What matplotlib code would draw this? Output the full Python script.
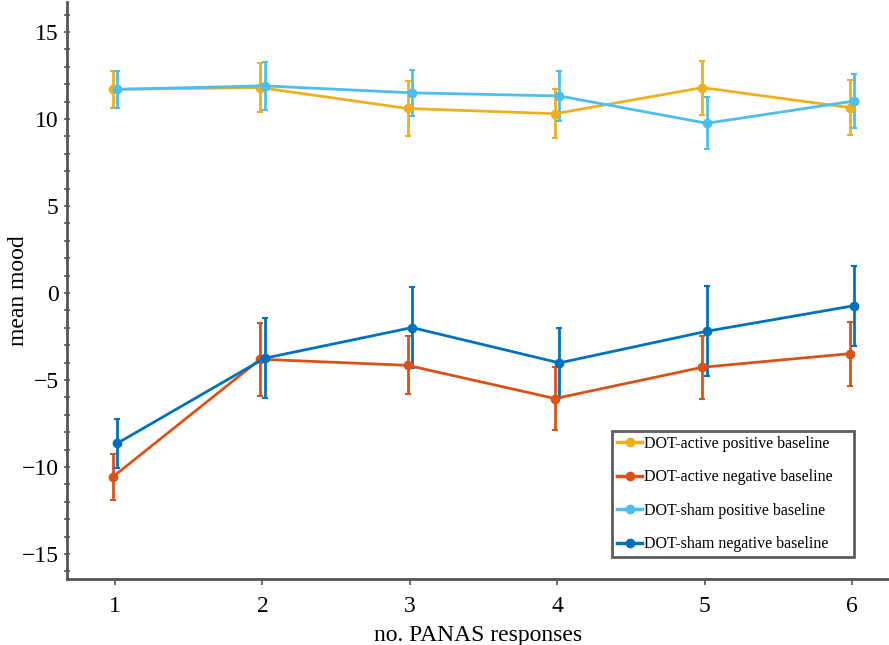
import numpy as np
import matplotlib
matplotlib.use('Agg')
import matplotlib.pyplot as plt
from matplotlib.lines import Line2D

plt.rcParams['font.family'] = ['Liberation Serif', 'DejaVu Serif']

responses = [1, 2, 3, 4, 5, 6]

active_pos = [11.7, 11.8, 10.6, 10.3, 11.8, 10.65]
active_pos_err = [1.07, 1.4, 1.6, 1.4, 1.55, 1.58]
active_neg = [-10.57, -3.81, -4.16, -6.07, -4.27, -3.49]
active_neg_err = [1.33, 2.1, 1.66, 1.82, 1.8, 1.83]
sham_pos = [11.7, 11.9, 11.5, 11.32, 9.75, 11.03]
sham_pos_err = [1.07, 1.37, 1.34, 1.45, 1.5, 1.53]
sham_neg = [-8.64, -3.75, -1.99, -4.02, -2.2, -0.73]
sham_neg_err = [1.4, 2.29, 2.35, 2.0, 2.6, 2.3]

labels = ['DOT-active positive baseline', 'DOT-active negative baseline',
          'DOT-sham positive baseline', 'DOT-sham negative baseline']
colors = ['#EDB120', '#D95319', '#4DBEEE', '#0072BD']

fig = plt.figure(figsize=(8.89, 6.45), dpi=100)
ax = fig.add_axes([0.0754, 0.1023, 0.9246, 0.8946])

x = np.array(responses)
series = [(active_pos, active_pos_err, -0.015), (active_neg, active_neg_err, -0.015),
          (sham_pos, sham_pos_err, 0.015), (sham_neg, sham_neg_err, 0.015)]
handles = []
for (vals, errs, off), lab, c in zip(series, labels, colors):
    ax.errorbar(x + off, vals, yerr=errs, color=c, marker='o', markersize=6,
                linewidth=2, elinewidth=2, capsize=2, capthick=1.5)
    handles.append(Line2D([], [], color=c, marker='o', markersize=6, linewidth=2.5, label=lab))

ax.set_xlim(0.674, 6.251)
ax.set_ylim(-16.44, 16.72)
ax.set_xticks(responses)
ax.set_yticks([-15, -10, -5, 0, 5, 10, 15])
ax.set_yticks(np.arange(-16, 17, 1), minor=True)
ax.tick_params(axis='y', which='both', direction='inout', length=5, width=1.2,
               color='#555555', labelsize=17)
ax.tick_params(axis='x', direction='out', length=4, width=1.2, color='#555555',
               labelsize=17, pad=8)

for s in ['top', 'right']:
    ax.spines[s].set_visible(False)
for s in ['left', 'bottom']:
    ax.spines[s].set_color('#555555')
    ax.spines[s].set_linewidth(2)

ax.set_xlabel('no. PANAS responses', fontsize=17, labelpad=6)
ax.set_ylabel('mean mood', fontsize=17)
ax.yaxis.set_label_coords(-0.046, 0.5)

leg = ax.legend(handles=handles, loc='lower left', bbox_to_anchor=(0.663, 0.038, 0.294, 0.2),
                mode='expand', fontsize=11.5, frameon=True, fancybox=False,
                edgecolor='#333333', labelspacing=1.1, handlelength=1.6,
                handletextpad=0.1, borderpad=0.3, borderaxespad=0)
leg.get_frame().set_linewidth(2)

fig.savefig('out.png', dpi=100)
